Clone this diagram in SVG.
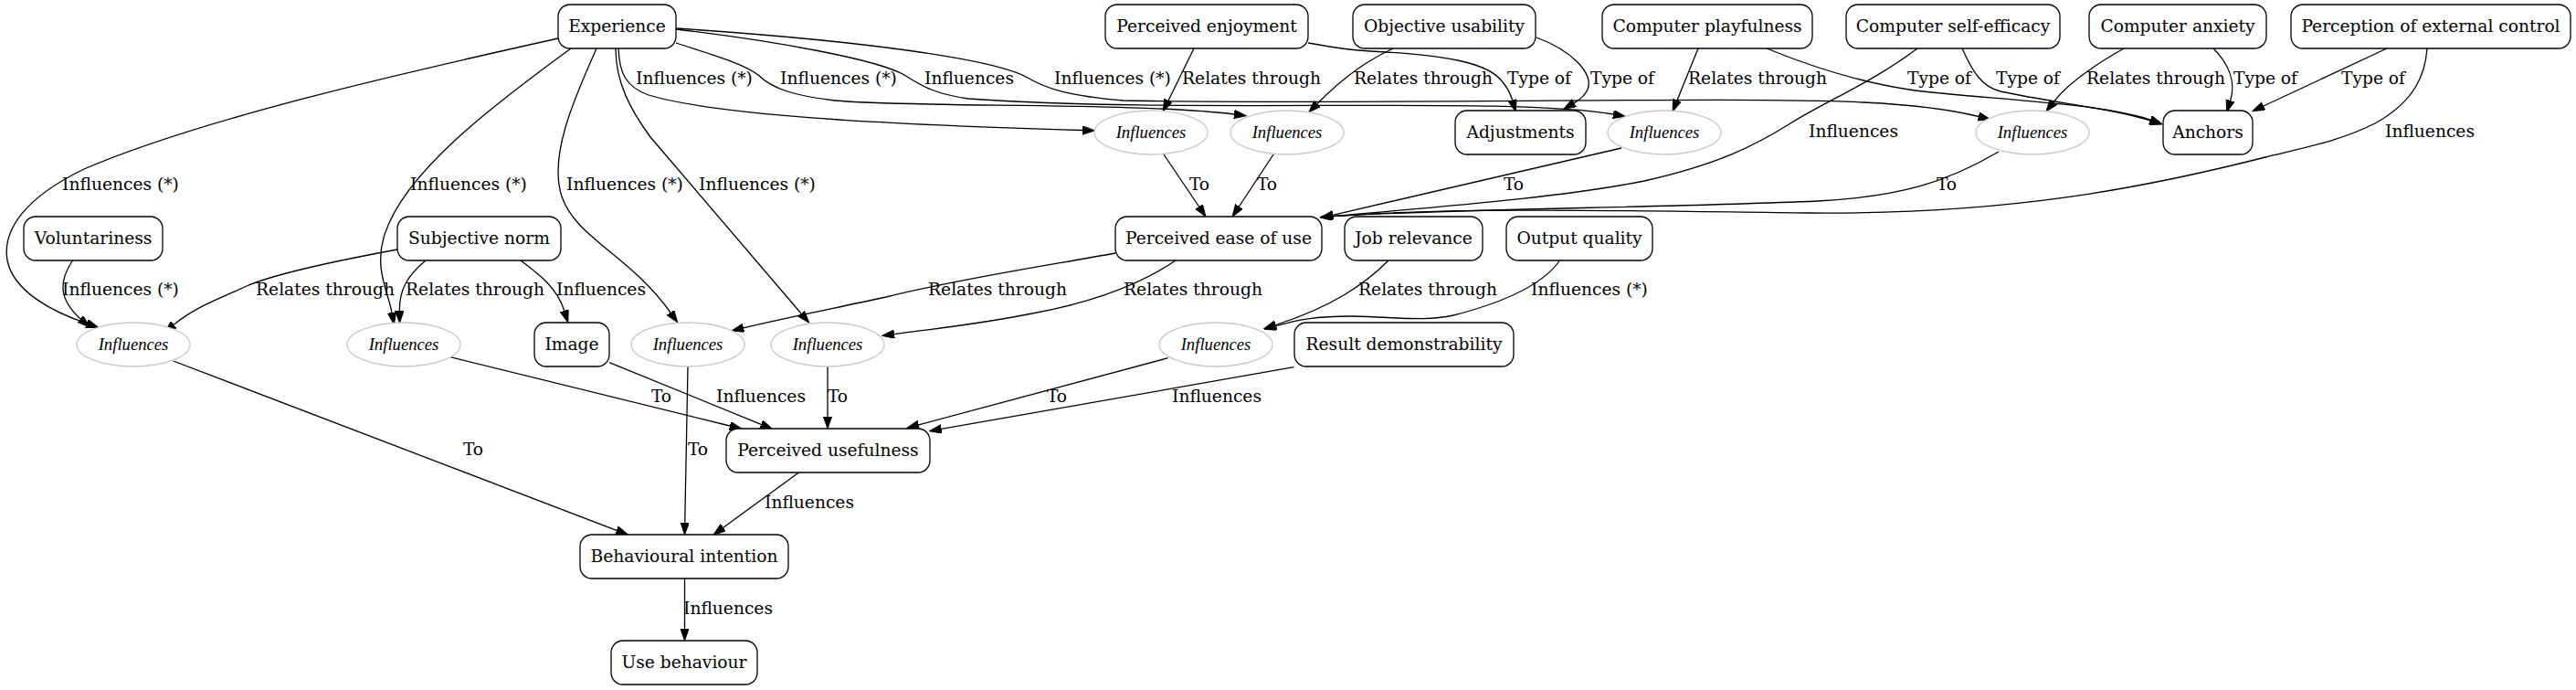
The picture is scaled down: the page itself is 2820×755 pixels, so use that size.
<svg xmlns="http://www.w3.org/2000/svg" width="2820" height="755" viewBox="0 0 2820 755">
<style>
.n rect{fill:#fff;stroke:#000;stroke-width:1.3}
.n ellipse{fill:#fff;stroke:#c8c8c8;stroke-width:1.3}
.n text{font-family:"DejaVu Serif",serif;font-size:18.67px;text-anchor:middle;fill:#000}
.n text.i{font-family:"Liberation Serif",serif;font-style:italic;font-size:18.67px}
#edges path{fill:none;stroke:#000;stroke-width:1.3;marker-end:url(#arr)}
#edges text{font-family:"DejaVu Serif",serif;font-size:18.67px;text-anchor:middle;fill:#000}
</style>
<defs>
<marker id="arr" markerWidth="14" markerHeight="10" refX="0" refY="4.67" orient="auto" markerUnits="userSpaceOnUse"><path d="M0,0 L13.3,4.67 L0,9.33 z" fill="#000" stroke="#000" stroke-width="1"/></marker>
</defs>
<rect width="2820" height="755" fill="#fff"/>
<g id="edges">
<path d="M611,42 C440,80 220,130 92,185 C30,215 2,250 8,285 C15,320 60,342 95,354"/>
<path d="M625,53 C540,115 440,190 420,260 C410,295 425,320 429,342"/>
<path d="M653,53 C630,105 600,170 615,215 C630,260 690,280 734,342"/>
<path d="M674,53 C674,90 690,120 712,150 L877,343"/>
<path d="M677,53 C678,80 685,95 710,104 C780,125 950,136 1185,142.5"/>
<path d="M740,47 C780,60 815,70 830,82 C845,97 870,105 914,110 C1000,118 1250,112 1351,125"/>
<path d="M740,32 C850,45 960,65 990,82 C1010,95 1025,103 1060,108 C1300,125 1650,105 1766,125"/>
<path d="M740,31 C950,45 1090,65 1125,85 C1145,97 1170,105 1230,110 C1500,115 1900,105 2040,112 C2100,115 2140,121 2166,127.5"/>
<path d="M1307,53 L1279,110"/>
<path d="M1432,47 C1460,52 1480,55 1500,56 C1580,60 1630,68 1645,90 C1652,98 1654,104 1655.6,109.5"/>
<path d="M1525,53 C1500,65 1475,80 1442,113.5"/>
<path d="M1682,41 C1720,55 1745,80 1738,98 C1734,106 1728,110 1723.4,112.6"/>
<path d="M1859,53 L1836,109.7"/>
<path d="M1934,53 C2000,80 2050,92 2090,98 C2160,108 2300,112 2354,131"/>
<path d="M2099,53 C2050,90 2000,110 1960,135 C1920,160 1880,180 1800,198 C1700,218 1550,228 1459,236.6"/>
<path d="M2148,53 C2160,80 2170,95 2190,100 C2250,113 2310,118 2354,132"/>
<path d="M2325,53 C2295,70 2265,90 2248,111.6"/>
<path d="M2423,53 C2440,70 2448,90 2441.6,110"/>
<path d="M2613,53 L2478,116"/>
<path d="M2657,53 C2655,80 2645,110 2600,135 C2560,155 2520,162 2480,172 C2350,205 2200,235 1980,233 C1800,231 1600,226 1459,236.6"/>
<path d="M2188,166 C2130,200 2080,215 1990,220 C1800,228 1600,228 1459,236.6"/>
<path d="M1775,162 L1459,235.3"/>
<path d="M1274,169 L1312.5,226"/>
<path d="M1394,169 L1356.4,226"/>
<path d="M79.5,285 C66,305 62,325 88,349"/>
<path d="M435,273 C370,285 300,300 270,313 C240,327 215,335 190.3,355.3"/>
<path d="M466,285 C448,300 437,315 437.3,340"/>
<path d="M570,285 C590,300 610,315 617.8,340"/>
<path d="M1221,277 C1150,290 1050,305 970,325 C900,340 850,350 814,358.8"/>
<path d="M1287,285 C1250,310 1200,330 1130,343 C1070,355 1020,360 979,365.6"/>
<path d="M1520,285 C1495,310 1460,335 1396.5,355.5"/>
<path d="M1707.5,285 C1690,310 1650,330 1591,345 C1560,352 1530,347 1480,346 C1440,346 1420,350 1397,356.7"/>
<path d="M189.7,395 L675,580.3"/>
<path d="M493,390.7 L799,466"/>
<path d="M667,396.7 L833.2,464.3"/>
<path d="M753,401 L749.75,571.7"/>
<path d="M906,401 L906,455.7"/>
<path d="M1278.6,391.7 L1005.7,464.9"/>
<path d="M1416.5,401.7 L1030.5,469.4"/>
<path d="M874.5,517 L791.8,577.2"/>
<path d="M749.5,633 L749.5,687.7"/>
<text x="760" y="92">Influences (*)</text>
<text x="918" y="92">Influences (*)</text>
<text x="1061" y="92">Influences</text>
<text x="1218" y="92">Influences (*)</text>
<text x="1370" y="92">Relates through</text>
<text x="1558" y="92">Relates through</text>
<text x="1685" y="92">Type of</text>
<text x="1776" y="92">Type of</text>
<text x="1924" y="92">Relates through</text>
<text x="2123" y="92">Type of</text>
<text x="2220" y="92">Type of</text>
<text x="2360" y="92">Relates through</text>
<text x="2480" y="92">Type of</text>
<text x="2598" y="92">Type of</text>
<text x="2029" y="150">Influences</text>
<text x="2660" y="150">Influences</text>
<text x="132" y="208">Influences (*)</text>
<text x="513" y="208">Influences (*)</text>
<text x="684" y="208">Influences (*)</text>
<text x="829" y="208">Influences (*)</text>
<text x="1313" y="208">To</text>
<text x="1387" y="208">To</text>
<text x="1657" y="208">To</text>
<text x="2131" y="208">To</text>
<text x="132" y="323">Influences (*)</text>
<text x="356" y="323">Relates through</text>
<text x="520" y="323">Relates through</text>
<text x="658" y="323">Influences</text>
<text x="1092" y="323">Relates through</text>
<text x="1306" y="323">Relates through</text>
<text x="1563" y="323">Relates through</text>
<text x="1740" y="323">Influences (*)</text>
<text x="724" y="440">To</text>
<text x="833" y="440">Influences</text>
<text x="917" y="440">To</text>
<text x="1157" y="440">To</text>
<text x="1332" y="440">Influences</text>
<text x="518" y="498">To</text>
<text x="764" y="498">To</text>
<text x="886" y="556">Influences</text>
<text x="797" y="672">Influences</text>
</g>
<g id="n_experience" class="n"><rect x="611" y="5" width="129" height="48" rx="13"/><text x="675.5" y="35">Experience</text></g>
<g id="n_enjoyment" class="n"><rect x="1210" y="5" width="222" height="48" rx="13"/><text x="1321" y="35">Perceived enjoyment</text></g>
<g id="n_objusability" class="n"><rect x="1481" y="5" width="200" height="48" rx="13"/><text x="1581" y="35">Objective usability</text></g>
<g id="n_playfulness" class="n"><rect x="1754" y="5" width="230" height="48" rx="13"/><text x="1869" y="35">Computer playfulness</text></g>
<g id="n_selfefficacy" class="n"><rect x="2021" y="5" width="234" height="48" rx="13"/><text x="2138" y="35">Computer self-efficacy</text></g>
<g id="n_anxiety" class="n"><rect x="2287" y="5" width="194" height="48" rx="13"/><text x="2384" y="35">Computer anxiety</text></g>
<g id="n_extcontrol" class="n"><rect x="2508" y="5" width="306" height="48" rx="13"/><text x="2661" y="35">Perception of external control</text></g>
<g id="n_infA" class="n"><ellipse cx="1260" cy="145" rx="62" ry="24"/><text class="i" x="1260" y="151">Influences</text></g>
<g id="n_infB" class="n"><ellipse cx="1409" cy="145" rx="62" ry="24"/><text class="i" x="1409" y="151">Influences</text></g>
<g id="n_adjustments" class="n"><rect x="1593" y="121" width="143" height="48" rx="13"/><text x="1664.5" y="151">Adjustments</text></g>
<g id="n_infC" class="n"><ellipse cx="1822" cy="145" rx="62" ry="24"/><text class="i" x="1822" y="151">Influences</text></g>
<g id="n_infD" class="n"><ellipse cx="2225" cy="145" rx="62" ry="24"/><text class="i" x="2225" y="151">Influences</text></g>
<g id="n_anchors" class="n"><rect x="2368" y="121" width="98" height="48" rx="13"/><text x="2417" y="151">Anchors</text></g>
<g id="n_voluntariness" class="n"><rect x="26" y="237" width="152" height="48" rx="13"/><text x="102" y="267">Voluntariness</text></g>
<g id="n_subjnorm" class="n"><rect x="435" y="237" width="179" height="48" rx="13"/><text x="524.5" y="267">Subjective norm</text></g>
<g id="n_peou" class="n"><rect x="1221" y="237" width="226" height="48" rx="13"/><text x="1334" y="267">Perceived ease of use</text></g>
<g id="n_jobrel" class="n"><rect x="1472" y="237" width="151" height="48" rx="13"/><text x="1547.5" y="267">Job relevance</text></g>
<g id="n_outqual" class="n"><rect x="1649" y="237" width="160" height="48" rx="13"/><text x="1729" y="267">Output quality</text></g>
<g id="n_infE" class="n"><ellipse cx="146" cy="377" rx="62" ry="24"/><text class="i" x="146" y="383">Influences</text></g>
<g id="n_infF" class="n"><ellipse cx="442" cy="377" rx="62" ry="24"/><text class="i" x="442" y="383">Influences</text></g>
<g id="n_image" class="n"><rect x="585" y="353" width="82" height="48" rx="13"/><text x="626" y="383">Image</text></g>
<g id="n_infG" class="n"><ellipse cx="753" cy="377" rx="62" ry="24"/><text class="i" x="753" y="383">Influences</text></g>
<g id="n_infH" class="n"><ellipse cx="906" cy="377" rx="62" ry="24"/><text class="i" x="906" y="383">Influences</text></g>
<g id="n_infI" class="n"><ellipse cx="1331" cy="377" rx="62" ry="24"/><text class="i" x="1331" y="383">Influences</text></g>
<g id="n_resultdemo" class="n"><rect x="1417" y="353" width="240" height="48" rx="13"/><text x="1537" y="383">Result demonstrability</text></g>
<g id="n_pu" class="n"><rect x="795" y="469" width="223" height="48" rx="13"/><text x="906.5" y="499">Perceived usefulness</text></g>
<g id="n_bi" class="n"><rect x="635" y="585" width="228" height="48" rx="13"/><text x="749" y="615">Behavioural intention</text></g>
<g id="n_ub" class="n"><rect x="669" y="701" width="160" height="48" rx="13"/><text x="749" y="731">Use behaviour</text></g>
</svg>
